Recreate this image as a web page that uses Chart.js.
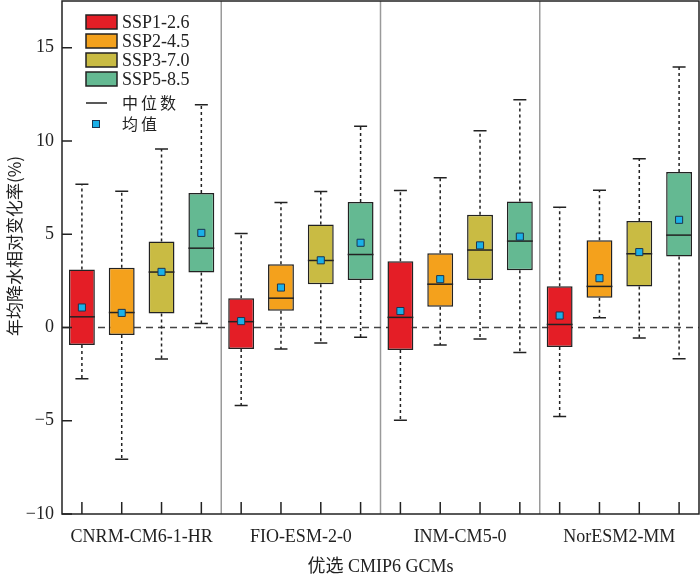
<!DOCTYPE html>
<html>
<head>
<meta charset="utf-8">
<script src="https://cdn.jsdelivr.net/npm/chart.js@4.4.1/dist/chart.umd.min.js"></script>
<style>
  html, body { margin: 0; padding: 0; background: #fff; }
  #wrap { width: 700px; height: 579px; }
</style>
</head>
<body>
<div id="wrap"><canvas id="chart"></canvas></div>
<script>
// 模式与情景
const gcms = ["CNRM-CM6-1-HR", "FIO-ESM-2-0", "INM-CM5-0", "NorESM2-MM"];
const scenarios = ["SSP1-2.6", "SSP2-4.5", "SSP3-7.0", "SSP5-8.5"];
const scenarioColors = ["#E41E26", "#F4A11C", "#C9BB43", "#64B992"];

// 箱线图统计量, 按模式依次排列 (每个模式 4 个情景)
const whiskerHigh = [7.68, 7.30, 9.57, 11.94,  5.04, 6.70, 7.29, 10.78,  7.34, 8.03, 10.54, 12.20,  6.45, 7.36, 9.05, 13.96];
const q3 =          [3.11, 3.20, 4.61, 7.21,   1.57, 3.39, 5.52, 6.73,   3.55, 3.98, 6.04, 6.75,    2.21, 4.68, 5.71, 8.34];
const medians =     [0.57, 0.80, 2.97, 4.25,   0.31, 1.57, 3.59, 3.91,   0.54, 2.32, 4.15, 4.63,    0.16, 2.20, 3.95, 4.95];
const means =       [1.07, 0.78, 2.98, 5.07,   0.34, 2.14, 3.60, 4.54,   0.88, 2.59, 4.40, 4.87,    0.64, 2.64, 4.04, 5.77];
const q1 =          [-0.94, -0.41, 0.75, 2.95, -1.16, 0.89, 2.32, 2.55,  -1.21, 1.11, 2.55, 3.07,   -1.05, 1.59, 2.20, 3.80];
const whiskerLow =  [-2.75, -7.07, -1.69, 0.21, -4.19, -1.16, -0.84, -0.52, -4.98, -0.94, -0.62, -1.34, -4.77, 0.52, -0.57, -1.68];

// y 轴刻度
const yTicks = [-10, -5, 0, 5, 10, 15];
const yTitle = "年均降水相对变化率(%)";

const serif = "'Liberation Serif', 'Noto Sans CJK SC', serif";
const cjk = "'Noto Sans CJK SC', 'Liberation Serif', sans-serif";
const ink = "#222";

const positions = medians.map((_, i) => i + 1);
const groupCenters = gcms.map((_, g) => g * scenarios.length + (scenarios.length + 1) / 2);
const separators = gcms.slice(1).map((_, g) => (g + 1) * scenarios.length + 0.5);

const boxData = positions.map((x, i) => ({ x: x, y: [q1[i], q3[i]] }));
const meanData = positions.map((x, i) => ({ x: x, y: means[i] }));
const boxColors = positions.map((x, i) => scenarioColors[i % scenarios.length]);

// 须线、零线、分隔线、中位数、图例
const boxPlugin = {
  id: "boxExtras",
  beforeDatasetsDraw(chart) {
    const { ctx, chartArea: a, scales: { x, y } } = chart;
    ctx.save();
    // 分隔线
    ctx.strokeStyle = "#9a9a9a";
    ctx.lineWidth = 1.5;
    separators.forEach((s) => {
      const px = x.getPixelForValue(s);
      ctx.beginPath();
      ctx.moveTo(px, a.top);
      ctx.lineTo(px, a.bottom);
      ctx.stroke();
    });
    // 零线
    const y0 = y.getPixelForValue(0);
    ctx.strokeStyle = "#444";
    ctx.setLineDash([7, 5]);
    ctx.beginPath();
    ctx.moveTo(a.left, y0);
    ctx.lineTo(a.right, y0);
    ctx.stroke();
    // 须线
    ctx.strokeStyle = ink;
    positions.forEach((p, i) => {
      const px = x.getPixelForValue(p);
      ctx.setLineDash([3, 3]);
      ctx.beginPath();
      ctx.moveTo(px, y.getPixelForValue(q3[i]));
      ctx.lineTo(px, y.getPixelForValue(whiskerHigh[i]));
      ctx.moveTo(px, y.getPixelForValue(q1[i]));
      ctx.lineTo(px, y.getPixelForValue(whiskerLow[i]));
      ctx.stroke();
      ctx.setLineDash([]);
      ctx.beginPath();
      [whiskerHigh[i], whiskerLow[i]].forEach((v) => {
        const py = y.getPixelForValue(v);
        ctx.moveTo(px - 6.5, py);
        ctx.lineTo(px + 6.5, py);
      });
      ctx.stroke();
    });
    ctx.restore();
  },
  afterDatasetDraw(chart, args) {
    if (args.index !== 0) return;
    const { ctx, scales: { y } } = chart;
    const meta = chart.getDatasetMeta(0);
    ctx.save();
    ctx.strokeStyle = ink;
    ctx.lineWidth = 1.5;
    meta.data.forEach((bar, i) => {
      const half = bar.width / 2;
      const py = y.getPixelForValue(medians[i]);
      ctx.beginPath();
      ctx.moveTo(bar.x - half, py);
      ctx.lineTo(bar.x + half, py);
      ctx.stroke();
    });
    ctx.restore();
  },
  afterDraw(chart) {
    const { ctx, chartArea: a, scales: { x, y } } = chart;
    ctx.save();
    ctx.strokeStyle = ink;
    ctx.lineWidth = 1.5;
    // 边框
    ctx.strokeRect(a.left, a.top, a.right - a.left, a.bottom - a.top);
    // 向内的刻度
    ctx.beginPath();
    yTicks.forEach((t) => {
      const py = y.getPixelForValue(t);
      ctx.moveTo(a.left, py);
      ctx.lineTo(a.left + 10, py);
    });
    positions.forEach((p) => {
      const px = x.getPixelForValue(p);
      ctx.moveTo(px, a.bottom);
      ctx.lineTo(px, a.bottom - 12);
    });
    ctx.stroke();

    // y 轴标题
    ctx.save();
    ctx.translate(15, 246);
    ctx.rotate(-Math.PI / 2);
    ctx.textAlign = "center";
    ctx.textBaseline = "middle";
    ctx.fillStyle = ink;
    ctx.font = "17px " + cjk;
    ctx.fillText(yTitle, 0, 0);
    ctx.restore();

    // 图例
    const lx = a.left + 24;
    let ly = a.top + 14;
    ctx.textBaseline = "middle";
    ctx.textAlign = "left";
    scenarios.forEach((s, i) => {
      ctx.fillStyle = scenarioColors[i];
      ctx.fillRect(lx, ly, 31, 14);
      ctx.strokeRect(lx, ly, 31, 14);
      ctx.fillStyle = ink;
      ctx.font = "18px " + serif;
      ctx.fillText(s, lx + 36, ly + 8);
      ly += 19;
    });
    // 中位数
    const my = a.top + 102;
    ctx.beginPath();
    ctx.moveTo(lx, my);
    ctx.lineTo(lx + 21, my);
    ctx.stroke();
    ctx.font = "16px " + cjk;
    ["中", "位", "数"].forEach((c, k) => ctx.fillText(c, lx + 36 + k * 19, my));
    // 均值
    const vy = a.top + 123;
    ctx.fillStyle = "#1AB0E8";
    ctx.fillRect(lx + 6.5, vy - 3.5, 7, 7);
    ctx.strokeStyle = "#1c3550";
    ctx.lineWidth = 1;
    ctx.strokeRect(lx + 6.5, vy - 3.5, 7, 7);
    ctx.fillStyle = ink;
    ["均", "值"].forEach((c, k) => ctx.fillText(c, lx + 36 + k * 19, vy));
    ctx.restore();
  }
};

new Chart(document.getElementById("chart"), {
  type: "bar",
  data: {
    datasets: [
      {
        label: "box",
        data: boxData,
        backgroundColor: boxColors,
        borderColor: ink,
        borderWidth: 1.5,
        borderSkipped: false,
        barPercentage: 0.65,
        categoryPercentage: 1,
        order: 2
      },
      {
        type: "scatter",
        label: "均值",
        data: meanData,
        pointStyle: "rect",
        radius: 5,
        backgroundColor: "#1AB0E8",
        borderColor: "#1c3550",
        borderWidth: 1,
        order: 1
      }
    ]
  },
  options: {
    responsive: true,
    maintainAspectRatio: false,
    animation: false,
    events: [],
    layout: { autoPadding: false, padding: { top: 1, right: 1, left: 0, bottom: 0 } },
    plugins: {
      legend: { display: false },
      tooltip: { enabled: false }
    },
    scales: {
      x: {
        type: "linear",
        min: 0.5,
        max: positions.length + 0.5,
        offset: false,
        grid: { display: false, drawTicks: false },
        border: { display: false },
        afterBuildTicks(scale) {
          scale.ticks = groupCenters.map((v) => ({ value: v }));
        },
        afterFit(scale) {
          scale.height = 65;
          scale.paddingLeft = 0;
          scale.paddingRight = 0;
        },
        ticks: {
          autoSkip: false,
          maxRotation: 0,
          padding: 12,
          color: ink,
          font: { family: serif, size: 18 },
          callback: (v, i) => gcms[i]
        },
        title: {
          display: true,
          text: "优选 CMIP6 GCMs",
          color: ink,
          font: { family: serif, size: 18 },
          padding: { top: 0, bottom: 1 }
        }
      },
      y: {
        min: -10,
        max: 17.5,
        grid: { display: false, drawTicks: false },
        border: { display: false },
        afterBuildTicks(scale) {
          scale.ticks = yTicks.map((v) => ({ value: v }));
        },
        afterFit(scale) {
          scale.width = 62;
          scale.paddingTop = 0;
          scale.paddingBottom = 0;
        },
        ticks: {
          padding: 8,
          color: ink,
          font: { family: serif, size: 18 },
          callback: (v) => (v < 0 ? "\u2212" + Math.abs(v) : String(v))
        }
      }
    }
  },
  plugins: [boxPlugin]
});
</script>
</body>
</html>
